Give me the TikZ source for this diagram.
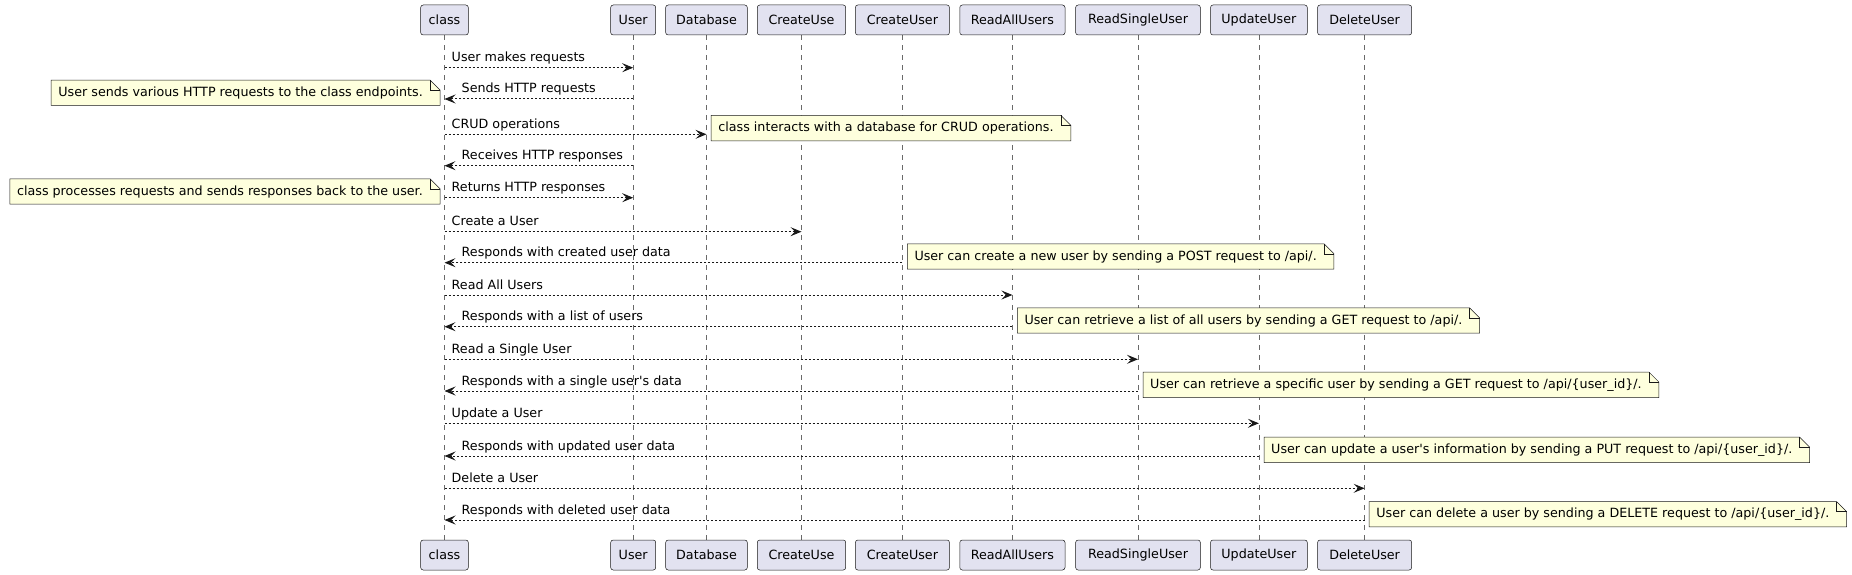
\documentclass[tikz,border=0pt]{standalone}
\usepackage{fontspec}
\setmainfont{DejaVu Sans}
\usetikzlibrary{arrows.meta,backgrounds}
\definecolor{partfill}{HTML}{E2E2F0}
\definecolor{linecol}{HTML}{181818}
\definecolor{notefill}{HTML}{FEFFDD}
\tikzset{
  part/.style = {draw = linecol, fill = partfill, line width = 0.5pt, rounded corners = 2.5pt, minimum height = 30pt, inner xsep = 7.5pt, inner ysep = 0pt, font = \fontsize{12.7pt}{15pt}\selectfont},
  life/.style = {draw = linecol!65, line width = 0.5pt, dash pattern = on 5pt off 5pt},
  msg/.style = {draw = linecol, line width = 1pt, dash pattern = on 2pt off 2pt, -{Stealth[length = 11pt, width = 9pt, inset = 4.5pt]}},
  lbl/.style = {inner sep = 0pt, anchor = base west, font = \fontsize{12.7pt}{15pt}\selectfont},
  note/.style = {inner xsep = 7pt, inner ysep = 0pt, minimum height = 25pt, font = \fontsize{12.7pt}{15pt}\selectfont}
}
\newcommand\notebg[1]{%
  \begin{scope}[on background layer]
  \filldraw[fill = notefill, draw = linecol, line width = 0.5pt] (#1.south west) -- (#1.north west) -- (#1.north east) -- ([xshift = 10pt, yshift = -10pt]#1.north east) -- ([xshift = 10pt]#1.south east) -- cycle;
  \draw[linecol, line width = 0.5pt] (#1.north east) -- ([yshift = -10pt]#1.north east) -- ([xshift = 10pt, yshift = -10pt]#1.north east);
  \end{scope}}
\begin{document}
\begin{tikzpicture}[x = 1pt, y = -1pt]
\useasboundingbox (0,0) rectangle (1852,575);
\foreach \n/\x/\w/\t in {cls/444.5/47.6/class, usr/633.2/45/User, db/706.5/81.6/Database, cu/801.5/88.4/CreateUse, cr/902.4/94.1/CreateUser, ra/1012.4/105.2/ReadAllUsers, rs/1138/124.7/ReadSingleUser, up/1258.9/96.8/UpdateUser, de/1364.6/94.1/DeleteUser}
{
  \node[part, minimum width = \w] (top\n) at (\x,20) {\t};
  \node[part, minimum width = \w] (bot\n) at (\x,555) {\t};
}
\begin{scope}[on background layer]
\foreach \n in {cls,usr,db,cu,cr,ra,rs,up,de} \draw[life] (top\n.south) -- (bot\n.north);
\end{scope}
\foreach \p/\yy/\t [count = \i] in {usr/67.7/User makes requests, db/134.3/CRUD operations, usr/197.7/Returns HTTP responses, cu/231.7/Create a User, ra/295/Read All Users, rs/359.3/Read a Single User, up/423.3/Update a User, de/488.3/Delete a User}
{
  \coordinate (ca\i) at (topcls |- 0,\yy);
  \coordinate (cb\i) at (top\p |- 0,\yy);
  \draw[msg] (ca\i) -- (cb\i);
  \node[lbl] (call\i) at ([xshift = 7pt, yshift = 6pt]ca\i) {\t};
}
\foreach \p/\yy/\t [count = \i] in {usr/99/Sends HTTP requests, usr/165.7/Receives HTTP responses, cr/262.7/Responds with created user data, ra/326.7/Responds with a list of users, rs/391/Responds with a single user\textquotesingle s data, up/456/Responds with updated user data, de/520/Responds with deleted user data}
{
  \coordinate (ra\i) at (top\p |- 0,\yy);
  \coordinate (rb\i) at (topcls |- 0,\yy);
  \draw[msg] (ra\i) -- (rb\i);
  \node[lbl] (reply\i) at ([xshift = 17pt, yshift = 6pt]rb\i) {\t};
}
\node[note, anchor = east] (nsend) at (430,92.8) {User sends various HTTP requests to the class endpoints.};
\notebg{nsend}
\node[note, anchor = west] (ncrud) at (711.2,128.1) {class interacts with a database for CRUD operations.};
\notebg{ncrud}
\node[note, anchor = east] (nresp) at (430,191.5) {class processes requests and sends responses back to the user.};
\notebg{nresp}
\node[note, anchor = west] (ncreate) at (907.3,256.5) {User can create a new user by sending a POST request to /api/.};
\notebg{ncreate}
\node[note, anchor = west] (nlist) at (1017.3,320.5) {User can retrieve a list of all users by sending a GET request to /api/.};
\notebg{nlist}
\node[note, anchor = west] (nsingle) at (1143,384.8) {User can retrieve a specific user by sending a GET request to /api/\{user\_id\}/.};
\notebg{nsingle}
\node[note, anchor = west] (nupdate) at (1264,449.8) {User can update a user\textquotesingle s information by sending a PUT request to /api/\{user\_id\}/.};
\notebg{nupdate}
\node[note, anchor = west] (ndelete) at (1369.2,514.2) {User can delete a user by sending a DELETE request to /api/\{user\_id\}/.};
\notebg{ndelete}
\end{tikzpicture}
\end{document}
